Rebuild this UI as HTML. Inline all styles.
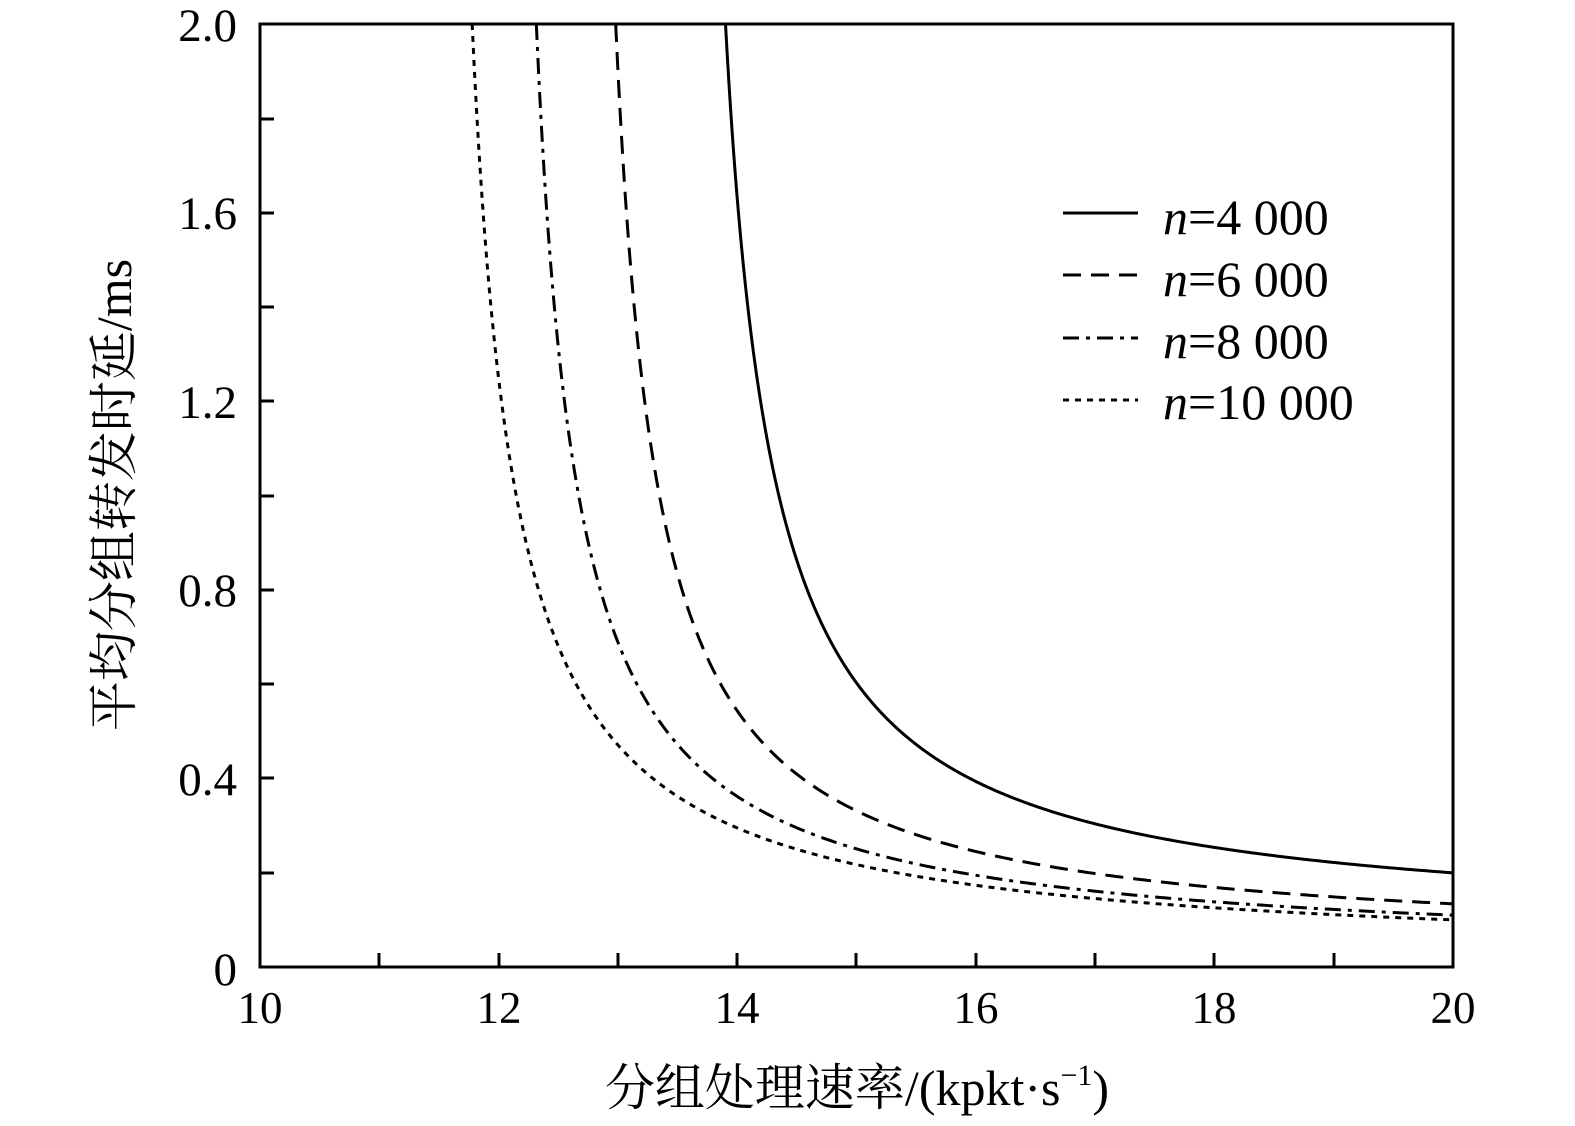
<!DOCTYPE html>
<html><head><meta charset="utf-8"><style>
html,body{margin:0;padding:0;background:#fff;}
svg{display:block;}
text{font-family:"Liberation Serif","Noto Serif CJK SC",serif;fill:#000;}
</style></head><body>
<svg width="1575" height="1126" viewBox="0 0 1575 1126" xmlns="http://www.w3.org/2000/svg">
<rect x="0" y="0" width="1575" height="1126" fill="#fff"/>
<rect x="260" y="24" width="1193" height="943" fill="none" stroke="#000" stroke-width="3"/>
<g stroke="#000" stroke-width="3">
<line x1="260" y1="119" x2="274" y2="119"/>
<line x1="260" y1="213" x2="274" y2="213"/>
<line x1="260" y1="307" x2="274" y2="307"/>
<line x1="260" y1="401" x2="274" y2="401"/>
<line x1="260" y1="496" x2="274" y2="496"/>
<line x1="260" y1="590" x2="274" y2="590"/>
<line x1="260" y1="684" x2="274" y2="684"/>
<line x1="260" y1="778" x2="274" y2="778"/>
<line x1="260" y1="873" x2="274" y2="873"/>
<line x1="379" y1="967" x2="379" y2="953"/>
<line x1="499" y1="967" x2="499" y2="953"/>
<line x1="618" y1="967" x2="618" y2="953"/>
<line x1="737" y1="967" x2="737" y2="953"/>
<line x1="856" y1="967" x2="856" y2="953"/>
<line x1="976" y1="967" x2="976" y2="953"/>
<line x1="1095" y1="967" x2="1095" y2="953"/>
<line x1="1214" y1="967" x2="1214" y2="953"/>
<line x1="1334" y1="967" x2="1334" y2="953"/>
</g>
<g font-size="47" text-anchor="end">
<text x="237" y="41">2.0</text>
<text x="237" y="229">1.6</text>
<text x="237" y="418">1.2</text>
<text x="237" y="606">0.8</text>
<text x="237" y="795">0.4</text>
<text x="237" y="985">0</text>
</g>
<g font-size="45" text-anchor="middle">
<text x="260" y="1023">10</text>
<text x="499" y="1023">12</text>
<text x="737" y="1023">14</text>
<text x="976" y="1023">16</text>
<text x="1214" y="1023">18</text>
<text x="1453" y="1023">20</text>
</g>
<text x="857" y="1105" font-size="50" text-anchor="middle">分组处理速率/(kpkt·s<tspan font-size="30" dy="-20">−1</tspan><tspan dy="20">)</tspan></text>
<text transform="translate(131,495) rotate(-90)" font-size="50" text-anchor="middle">平均分组转发时延/ms</text>
<g fill="none" stroke="#000" stroke-width="3" stroke-linejoin="round">
<path id="c1" d=""/>
<path id="c2" d="" stroke-dasharray="18,10"/>
<path id="c3" d="" stroke-dasharray="16,7,4,7"/>
<path id="c4" d="" stroke-dasharray="6,6"/>
</g>
<g stroke="#000" stroke-width="3">
<line x1="1063" y1="213" x2="1138" y2="213"/>
<line x1="1063" y1="275" x2="1138" y2="275" stroke-dasharray="18,10"/>
<line x1="1063" y1="338" x2="1138" y2="338" stroke-dasharray="16,7,4,7"/>
<line x1="1063" y1="400" x2="1138" y2="400" stroke-dasharray="6,6"/>
</g>
<g font-size="50">
<text x="1163" y="234"><tspan font-style="italic">n</tspan>=4 000</text>
<text x="1163" y="296"><tspan font-style="italic">n</tspan>=6 000</text>
<text x="1163" y="358"><tspan font-style="italic">n</tspan>=8 000</text>
<text x="1163" y="419"><tspan font-style="italic">n</tspan>=10 000</text>
</g>
</svg>
<script>
(function(){
  var P=[[13.49,0.792,0.078],[12.63,0.689,0.0405],[11.97,0.684,0.0248],[11.415,0.721,0.016]];
  function px(x){return 260+(x-10)*119.3;}
  function py(y){return 967-y*471.5;}
  P.forEach(function(p,i){
    var a=p[0],c=p[1],b=p[2];
    var x0=a+c/(2-b);
    var d='';
    var N=400;
    for(var k=0;k<=N;k++){
      var t=k/N;
      // denser sampling near asymptote
      var x=x0+(20-x0)*Math.pow(t,2);
      var y=b+c/(x-a);
      d+=(k?'L':'M')+px(x).toFixed(2)+','+py(y).toFixed(2);
    }
    document.getElementById('c'+(i+1)).setAttribute('d',d);
  });
})();
</script>
</body></html>
